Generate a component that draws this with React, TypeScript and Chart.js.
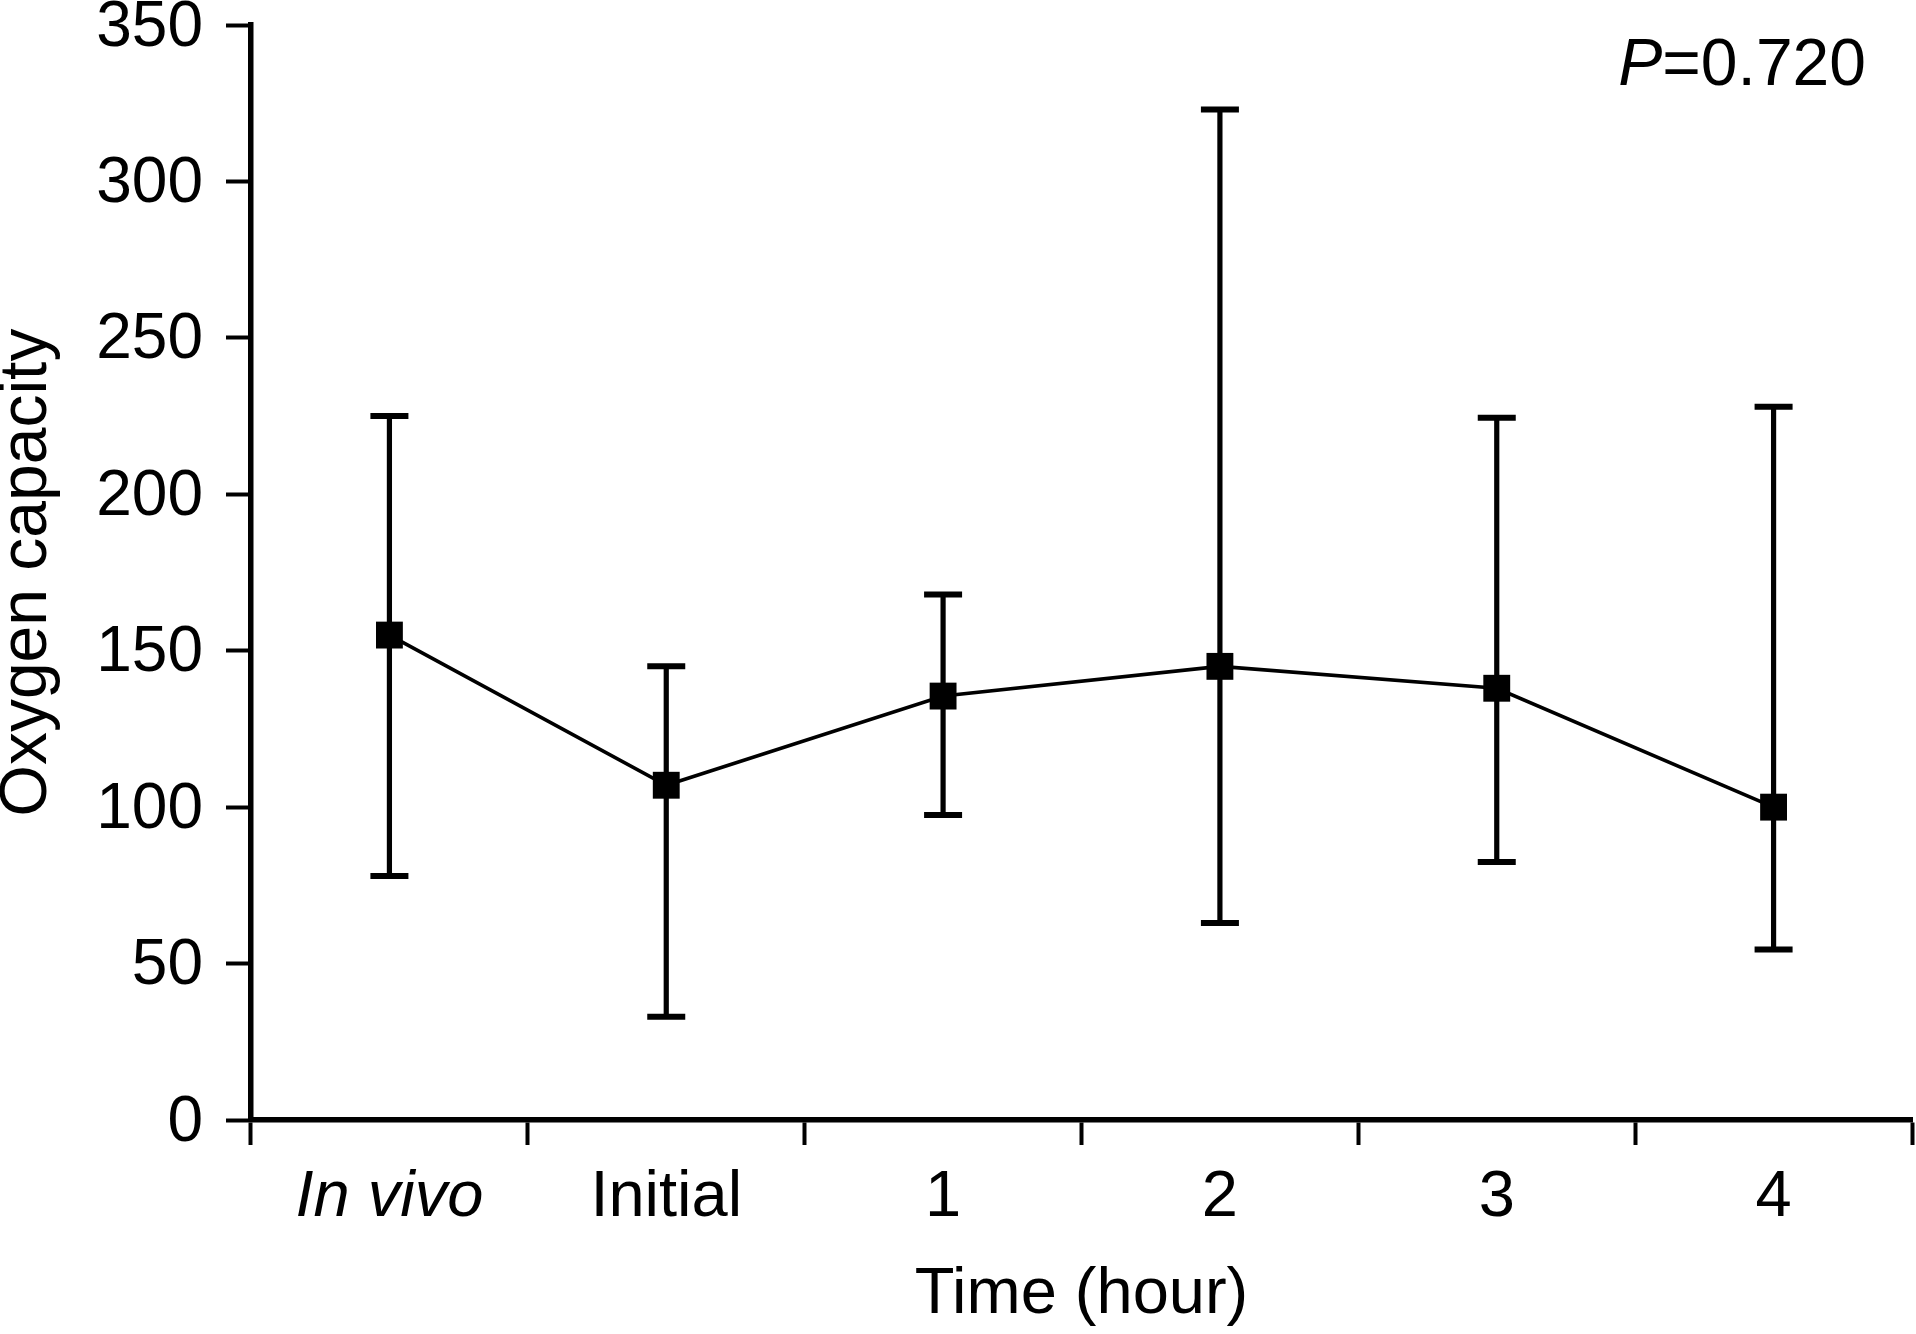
import React, { useEffect, useRef } from "react";
import { Chart, registerables } from "chart.js";

Chart.register(...registerables);

const categories = ["In vivo", "Initial", "1", "2", "3", "4"];
const meanValues = [155, 107, 135.5, 145, 138, 100];
const upperValues = [225, 145, 168, 323, 224.5, 228];
const lowerValues = [78, 33, 97.5, 63, 82.5, 54.5];
const yMin = 0;
const yMax = 350;
const yStep = 50;
const pPrefix = "P";
const pValueText = "=0.720";
const xTitle = "Time (hour)";
const yTitle = "Oxygen capacity";

const FONT = "'Liberation Sans', Arial, Helvetica, sans-serif";

const errorBarsPlugin = {
  id: "errorBars",
  beforeDatasetsDraw(chart: any) {
    const { ctx } = chart;
    const x = chart.scales.x;
    const y = chart.scales.y;
    ctx.save();
    ctx.strokeStyle = "#000";
    ctx.lineCap = "butt";
    categories.forEach((_, i) => {
      const px = x.getPixelForValue(i);
      const yt = y.getPixelForValue(upperValues[i]);
      const yb = y.getPixelForValue(lowerValues[i]);
      ctx.lineWidth = 5.2;
      ctx.beginPath();
      ctx.moveTo(px, yt);
      ctx.lineTo(px, yb);
      ctx.stroke();
      ctx.lineWidth = 6;
      ctx.beginPath();
      ctx.moveTo(px - 19, yt);
      ctx.lineTo(px + 19, yt);
      ctx.moveTo(px - 19, yb);
      ctx.lineTo(px + 19, yb);
      ctx.stroke();
    });
    ctx.restore();
  },
};

const pLabelPlugin = {
  id: "pLabel",
  afterDraw(chart: any) {
    const { ctx } = chart;
    ctx.save();
    ctx.fillStyle = "#000";
    ctx.textBaseline = "middle";
    ctx.font = `66px ${FONT}`;
    const rightX = 1866;
    const cy = 67;
    ctx.textAlign = "right";
    ctx.fillText(pValueText, rightX, cy);
    const w = ctx.measureText(pValueText).width;
    ctx.font = `italic 66px ${FONT}`;
    ctx.fillText(pPrefix, rightX - w, cy);
    ctx.restore();
  },
};

function zeroPadding(scale: any) {
  scale.paddingTop = 0;
  scale.paddingBottom = 0;
  scale.paddingLeft = 0;
  scale.paddingRight = 0;
}

export default function App() {
  const canvasRef = useRef<HTMLCanvasElement | null>(null);

  useEffect(() => {
    if (!canvasRef.current) return;
    const chart = new Chart(canvasRef.current, {
      type: "line",
      data: {
        labels: categories,
        datasets: [
          {
            data: meanValues,
            borderColor: "#000",
            borderWidth: 3.6,
            backgroundColor: "#000",
            pointStyle: "rect",
            pointRadius: 19,
            pointBorderWidth: 0,
            pointBackgroundColor: "#000",
            tension: 0,
            clip: false as any,
          },
        ],
      },
      options: {
        responsive: false,
        animation: false,
        layout: { autoPadding: false, padding: { top: 25, right: 4, left: 0, bottom: 0 } },
        plugins: {
          legend: { display: false },
          tooltip: { enabled: false },
        },
        scales: {
          x: {
            type: "category",
            offset: true,
            grid: {
              offset: true,
              drawOnChartArea: false,
              drawTicks: true,
              tickLength: 25,
              tickWidth: 4,
              color: "#000",
            },
            border: { display: true, color: "#000", width: 5.5 },
            ticks: {
              color: "#000",
              padding: 14,
              maxRotation: 0,
              autoSkip: false,
              font: (ctx: any) => ({
                family: FONT,
                size: 65,
                style: ctx.index === 0 ? "italic" : "normal",
              }),
            },
            title: {
              display: true,
              text: xTitle,
              color: "#000",
              font: { family: FONT, size: 65 },
              padding: { top: 0, bottom: 0 },
            },
            afterFit(scale: any) {
              scale.height = 214;
              zeroPadding(scale);
            },
          },
          y: {
            min: yMin,
            max: yMax,
            grid: {
              drawOnChartArea: false,
              drawTicks: true,
              tickLength: 25,
              tickWidth: 4,
              color: "#000",
            },
            border: { display: true, color: "#000", width: 5.5 },
            ticks: {
              stepSize: yStep,
              color: "#000",
              padding: 23,
              labelOffset: 3,
              font: { family: FONT, size: 64 },
            },
            title: {
              display: true,
              text: yTitle,
              color: "#000",
              font: { family: FONT, size: 66, lineHeight: 0.85 },
              padding: 0,
            },
            afterFit(scale: any) {
              scale.width = 251;
              zeroPadding(scale);
            },
          },
        },
      },
      plugins: [errorBarsPlugin, pLabelPlugin],
    } as any);
    return () => chart.destroy();
  }, []);

  return (
    <div style={{ position: "absolute", left: 0, top: 0, width: 1916, height: 1334, background: "#fff" }}>
      <canvas ref={canvasRef} width={1916} height={1334} style={{ display: "block" }} />
    </div>
  );
}
